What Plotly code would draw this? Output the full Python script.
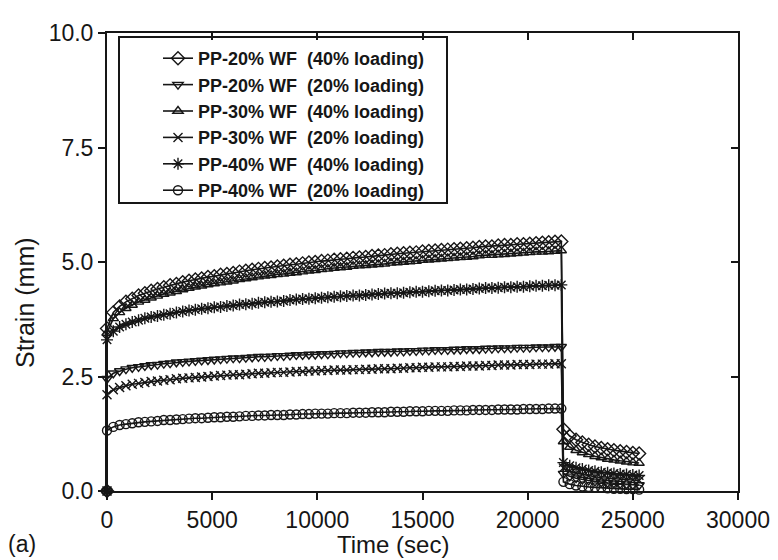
import plotly.graph_objects as go

# ---- data ----
series_names = [
    "PP-20% WF\u00a0 (40% loading)",
    "PP-20% WF\u00a0 (20% loading)",
    "PP-30% WF\u00a0 (40% loading)",
    "PP-30% WF\u00a0 (20% loading)",
    "PP-40% WF\u00a0 (40% loading)",
    "PP-40% WF\u00a0 (20% loading)",
]

# creep stage sampled every 300 s from 300 s to 21600 s
t_creep = list(range(300, 21601, 300))
# recovery stage after unloading
t_recovery = list(range(21700, 25301, 300))

# strain right at loading (t = 0)
instant_20wf_40 = 3.55
instant_20wf_20 = 2.45
instant_30wf_40 = 3.45
instant_30wf_20 = 2.10
instant_40wf_40 = 3.30
instant_40wf_20 = 1.32

creep_20wf_40 = [
    3.90, 4.03, 4.13, 4.20, 4.27, 4.32, 4.37, 4.41, 4.45, 4.49,
    4.52, 4.56, 4.59, 4.62, 4.64, 4.67, 4.69, 4.72, 4.74, 4.76,
    4.79, 4.81, 4.83, 4.85, 4.87, 4.88, 4.90, 4.92, 4.94, 4.95,
    4.97, 4.99, 5.00, 5.02, 5.03, 5.05, 5.06, 5.07, 5.09, 5.10,
    5.11, 5.13, 5.14, 5.15, 5.17, 5.18, 5.19, 5.20, 5.21, 5.23,
    5.24, 5.25, 5.26, 5.27, 5.28, 5.29, 5.30, 5.31, 5.33, 5.34,
    5.34, 5.36, 5.37, 5.37, 5.39, 5.39, 5.40, 5.41, 5.42, 5.43,
    5.44, 5.45,
]
creep_30wf_40 = [
    3.77, 3.90, 3.99, 4.06, 4.13, 4.17, 4.22, 4.26, 4.30, 4.33,
    4.36, 4.40, 4.43, 4.46, 4.48, 4.51, 4.53, 4.55, 4.57, 4.59,
    4.62, 4.64, 4.66, 4.68, 4.70, 4.71, 4.73, 4.74, 4.76, 4.77,
    4.79, 4.81, 4.82, 4.84, 4.85, 4.87, 4.88, 4.89, 4.91, 4.92,
    4.93, 4.94, 4.95, 4.96, 4.98, 4.99, 5.00, 5.01, 5.02, 5.04,
    5.05, 5.06, 5.07, 5.08, 5.09, 5.10, 5.11, 5.12, 5.14, 5.15,
    5.15, 5.16, 5.17, 5.18, 5.19, 5.20, 5.21, 5.22, 5.22, 5.23,
    5.24, 5.25,
]
creep_40wf_40 = [
    3.49, 3.58, 3.64, 3.69, 3.73, 3.77, 3.80, 3.82, 3.85, 3.87,
    3.90, 3.92, 3.94, 3.96, 3.98, 3.99, 4.01, 4.02, 4.04, 4.05,
    4.07, 4.08, 4.09, 4.11, 4.12, 4.13, 4.14, 4.15, 4.17, 4.18,
    4.19, 4.20, 4.21, 4.22, 4.23, 4.24, 4.25, 4.26, 4.27, 4.27,
    4.28, 4.29, 4.30, 4.31, 4.32, 4.32, 4.33, 4.34, 4.35, 4.35,
    4.36, 4.37, 4.38, 4.38, 4.39, 4.40, 4.40, 4.41, 4.42, 4.43,
    4.43, 4.44, 4.45, 4.45, 4.46, 4.46, 4.47, 4.48, 4.48, 4.49,
    4.49, 4.50,
]
creep_20wf_20 = [
    2.57, 2.62, 2.66, 2.69, 2.71, 2.73, 2.75, 2.76, 2.78, 2.79,
    2.81, 2.82, 2.83, 2.84, 2.85, 2.86, 2.87, 2.88, 2.89, 2.90,
    2.90, 2.91, 2.92, 2.93, 2.93, 2.94, 2.95, 2.95, 2.96, 2.97,
    2.97, 2.98, 2.98, 2.99, 2.99, 3.00, 3.01, 3.01, 3.02, 3.02,
    3.03, 3.03, 3.04, 3.04, 3.04, 3.05, 3.05, 3.06, 3.06, 3.07,
    3.07, 3.08, 3.08, 3.08, 3.09, 3.09, 3.10, 3.10, 3.10, 3.11,
    3.11, 3.12, 3.12, 3.12, 3.13, 3.13, 3.13, 3.14, 3.14, 3.14,
    3.15, 3.15,
]
creep_30wf_20 = [
    2.21, 2.26, 2.30, 2.33, 2.35, 2.37, 2.39, 2.40, 2.42, 2.43,
    2.45, 2.46, 2.47, 2.48, 2.49, 2.50, 2.51, 2.52, 2.53, 2.54,
    2.54, 2.55, 2.56, 2.57, 2.57, 2.58, 2.59, 2.59, 2.60, 2.61,
    2.61, 2.62, 2.62, 2.63, 2.63, 2.64, 2.64, 2.64, 2.65, 2.65,
    2.66, 2.66, 2.67, 2.67, 2.67, 2.68, 2.68, 2.69, 2.69, 2.70,
    2.70, 2.71, 2.71, 2.71, 2.72, 2.72, 2.73, 2.73, 2.73, 2.74,
    2.74, 2.75, 2.75, 2.75, 2.76, 2.76, 2.76, 2.77, 2.77, 2.77,
    2.78, 2.78,
]
creep_40wf_20 = [
    1.40, 1.44, 1.46, 1.48, 1.50, 1.51, 1.52, 1.53, 1.55, 1.55,
    1.56, 1.57, 1.58, 1.59, 1.59, 1.60, 1.61, 1.61, 1.62, 1.62,
    1.63, 1.64, 1.64, 1.65, 1.65, 1.66, 1.66, 1.66, 1.67, 1.67,
    1.68, 1.68, 1.69, 1.69, 1.69, 1.70, 1.70, 1.70, 1.71, 1.71,
    1.71, 1.72, 1.72, 1.72, 1.73, 1.73, 1.73, 1.74, 1.74, 1.74,
    1.75, 1.75, 1.75, 1.75, 1.76, 1.76, 1.76, 1.77, 1.77, 1.77,
    1.77, 1.78, 1.78, 1.78, 1.78, 1.79, 1.79, 1.79, 1.79, 1.80,
    1.80, 1.80,
]

rec_20wf_40 = [1.35, 1.20, 1.12, 1.06, 1.01, 0.97, 0.94, 0.91, 0.89, 0.87, 0.85, 0.83, 0.82]
rec_30wf_40 = [1.08, 0.96, 0.89, 0.84, 0.80, 0.76, 0.73, 0.70, 0.68, 0.66, 0.64, 0.62, 0.61]
rec_40wf_40 = [0.62, 0.55, 0.51, 0.48, 0.45, 0.43, 0.41, 0.40, 0.38, 0.37, 0.36, 0.35, 0.34]
rec_20wf_20 = [0.38, 0.32, 0.28, 0.25, 0.23, 0.21, 0.19, 0.18, 0.17, 0.16, 0.15, 0.14, 0.13]
rec_30wf_20 = [0.50, 0.43, 0.39, 0.36, 0.33, 0.31, 0.29, 0.28, 0.27, 0.26, 0.25, 0.24, 0.23]
rec_40wf_20 = [0.20, 0.15, 0.12, 0.10, 0.09, 0.08, 0.07, 0.06, 0.05, 0.05, 0.04, 0.04, 0.03]

x_ticks = [0, 5000, 10000, 15000, 20000, 25000, 30000]
y_ticks = [0.0, 2.5, 5.0, 7.5, 10.0]

# ---- figure ----
INK = "#161616"
FONT = "Liberation Sans, Arial, sans-serif"

# the page body adds an 8 px offset; the figure is sized to fit the window
OFF = 8
FIG_W, FIG_H = 778 - OFF, 560 - OFF
# plot-area geometry in window pixels (used only for placing texts / legend frame)
L, R, T, B = 107, 738, 33, 491
W, H = R - L, B - T


def px(x):
    return (x - L) / W


def py(y):
    return (B - y) / H


series = [
    (series_names[0], instant_20wf_40, creep_20wf_40, rec_20wf_40, "diamond-open", 10),
    (series_names[1], instant_20wf_20, creep_20wf_20, rec_20wf_20, "triangle-down-open", 9),
    (series_names[2], instant_30wf_40, creep_30wf_40, rec_30wf_40, "triangle-up-open", 9),
    (series_names[3], instant_30wf_20, creep_30wf_20, rec_30wf_20, "x-thin", 9),
    (series_names[4], instant_40wf_40, creep_40wf_40, rec_40wf_40, "asterisk-open", 10),
    (series_names[5], instant_40wf_20, creep_40wf_20, rec_40wf_20, "circle-open", 9),
]

fig = go.Figure()
for name, inst, creep, rec, sym, size in series:
    xs = [0, 0] + t_creep + t_recovery
    ys = [0.0, inst] + creep + rec
    fig.add_trace(go.Scatter(
        x=xs, y=ys, name=name, mode="lines+markers",
        line=dict(color=INK, width=1.6),
        marker=dict(symbol=sym, size=size, color=INK,
                    line=dict(color=INK, width=1.4)),
        cliponaxis=False,
    ))

# helper (empty) trace so the top / right frame axes are drawn
fig.add_trace(go.Scatter(x=[], y=[], xaxis="x2", yaxis="y2",
                         showlegend=False, hoverinfo="skip"))

axis_common = dict(showgrid=False, zeroline=False, showline=True,
                   linecolor=INK, linewidth=2, tickcolor=INK,
                   automargin=False)

fig.update_layout(
    width=FIG_W, height=FIG_H,
    margin=dict(l=L - OFF, r=778 - R, t=T - OFF, b=560 - B),
    paper_bgcolor="white", plot_bgcolor="white",
    font=dict(family=FONT, color=INK),
    showlegend=True,
    xaxis=dict(range=[0, 30000], tickvals=x_ticks,
               ticktext=[str(v) for v in x_ticks],
               ticks="outside", ticklen=7, tickwidth=2,
               tickfont=dict(size=23, family=FONT, color=INK),
               **axis_common),
    yaxis=dict(range=[0, 10], tickvals=y_ticks,
               ticktext=[f"{v:.1f}" for v in y_ticks],
               ticks="outside", ticklen=7, tickwidth=2,
               tickfont=dict(size=23, family=FONT, color=INK),
               **axis_common),
    xaxis2=dict(range=[0, 30000], tickvals=x_ticks, overlaying="x",
                side="top", ticks="inside", ticklen=7, tickwidth=2,
                showticklabels=False, **axis_common),
    yaxis2=dict(range=[0, 10], tickvals=y_ticks, overlaying="y",
                side="right", ticks="inside", ticklen=7, tickwidth=2,
                showticklabels=False, **axis_common),
    legend=dict(x=px(158), y=py(40), xanchor="left", yanchor="top",
                bgcolor="rgba(0,0,0,0)", borderwidth=0,
                font=dict(size=18, family=FONT, color=INK, weight="bold"),
                tracegroupgap=0),
    shapes=[
        dict(type="rect", xref="paper", yref="paper",
             x0=px(119), x1=px(447), y0=py(203), y1=py(37),
             line=dict(color=INK, width=2), fillcolor="rgba(0,0,0,0)",
             layer="above"),
    ],
    annotations=[
        dict(text="Strain (mm)", textangle=-90, showarrow=False,
             xref="paper", yref="paper", x=px(25), y=py(303),
             xanchor="center", yanchor="middle",
             font=dict(size=25, family=FONT, color=INK)),
        dict(text="Time (sec)", showarrow=False,
             xref="paper", yref="paper", x=px(393), y=py(544),
             xanchor="center", yanchor="middle",
             font=dict(size=24, family=FONT, color=INK)),
        dict(text="(a)", showarrow=False,
             xref="paper", yref="paper", x=px(22), y=py(544),
             xanchor="center", yanchor="middle",
             font=dict(size=23, family=FONT, color=INK)),
    ],
)

fig.write_html("out.html")
